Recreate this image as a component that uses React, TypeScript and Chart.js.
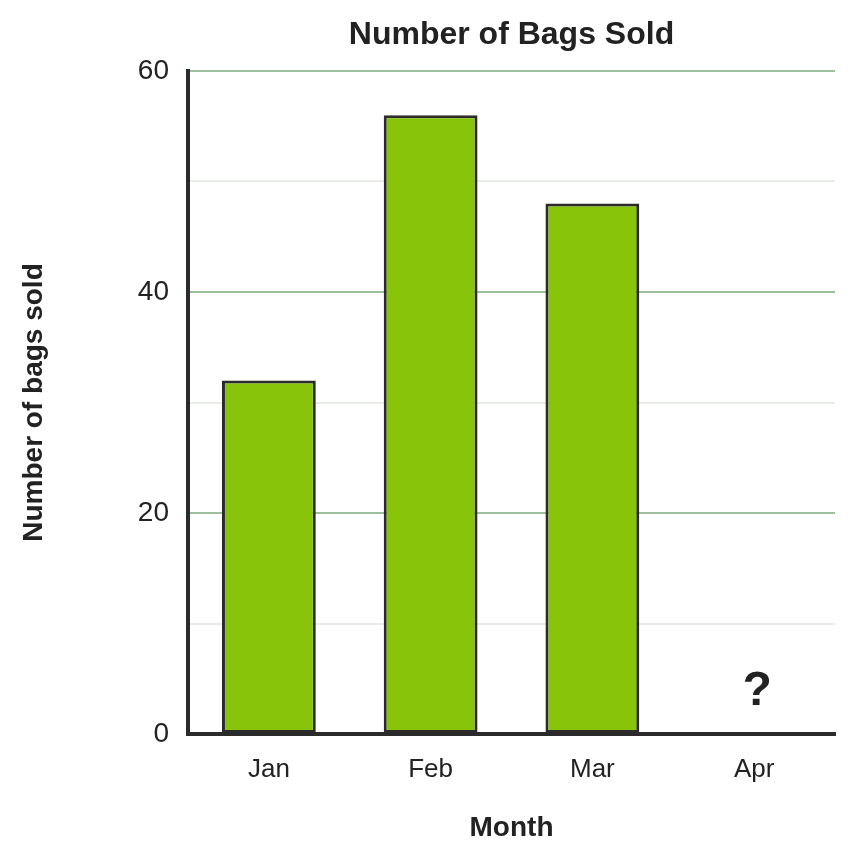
import React, { useEffect, useRef } from "react";
import { Chart, registerables } from "chart.js";

Chart.register(...registerables);

const months = ["Jan", "Feb", "Mar", "Apr"];
const bagsSold: (number | null)[] = [32, 56, 48, null];
const barMarks = ["", "", "", "?"];
const yTicks = [0, 20, 40, 60];

const fontFamily = "'Liberation Sans', Arial, sans-serif";
const textColor = "#222";
const axisColor = "#2b2b2b";
const barColor = "#88C40A";
const majorGrid = "#9dbf9d";
const minorGrid = "#e8ede8";

// writes the "?" (or any other mark) just above the zero line
const markPlugin = {
  id: "barMarks",
  afterDatasetsDraw(chart: Chart) {
    const { ctx } = chart;
    const x = chart.scales.x;
    const y = chart.scales.y;
    ctx.save();
    ctx.font = `bold 48px ${fontFamily}`;
    ctx.fillStyle = textColor;
    ctx.textAlign = "center";
    ctx.textBaseline = "middle";
    barMarks.forEach((m, i) => {
      if (!m) return;
      ctx.fillText(m, x.getPixelForValue(i) + 3, y.getPixelForValue(0) - 42);
    });
    ctx.restore();
  },
};

const App: React.FC = () => {
  const chartRef = useRef<HTMLCanvasElement | null>(null);

  useEffect(() => {
    if (!chartRef.current) return;
    const chart = new Chart(chartRef.current, {
      type: "bar",
      data: {
        labels: months,
        datasets: [
          {
            data: bagsSold,
            backgroundColor: barColor,
            borderColor: axisColor,
            borderWidth: 3,
            borderSkipped: false,
            categoryPercentage: 1,
            barPercentage: 0.58,
          },
        ],
      },
      options: {
        animation: false,
        responsive: true,
        maintainAspectRatio: false,
        layout: { padding: { left: 0, top: 0, bottom: 0, right: 21 } },
        plugins: {
          legend: { display: false },
          tooltip: { enabled: false },
          title: {
            display: true,
            text: "Number of Bags Sold",
            fullSize: false,
            color: textColor,
            font: { family: fontFamily, size: 32, weight: "bold", lineHeight: 1.2 },
            padding: { top: 15.8, bottom: 16.8 },
          },
        },
        scales: {
          x: {
            grid: { display: false },
            border: { display: true, color: axisColor, width: 4 },
            ticks: {
              color: textColor,
              padding: 12,
              font: { family: fontFamily, size: 26 },
            },
            title: {
              display: true,
              text: "Month",
              color: textColor,
              font: { family: fontFamily, size: 28, weight: "bold", lineHeight: 1.2 },
              padding: { top: 0, bottom: 10 },
            },
            afterFit(scale: any) {
              scale.height = 121;
            },
          },
          y: {
            min: 0,
            max: 60,
            grid: {
              drawTicks: false,
              lineWidth: 2,
              color: (c: any) => {
                const v = c.tick ? c.tick.value : 0;
                if (v === 0) return "rgba(0,0,0,0)";
                return yTicks.includes(v) ? majorGrid : minorGrid;
              },
            },
            border: { display: true, color: axisColor, width: 4 },
            ticks: {
              stepSize: 10,
              color: textColor,
              padding: 19,
              font: { family: fontFamily, size: 28 },
              callback: (v: any) => (yTicks.includes(Number(v)) ? String(v) : ""),
            },
            title: {
              display: true,
              text: "Number of bags sold",
              color: textColor,
              font: { family: fontFamily, size: 28, weight: "bold", lineHeight: 1.2 },
              padding: { top: 17, bottom: 0 },
            },
            afterFit(scale: any) {
              scale.width = 188;
            },
          },
        },
      },
      plugins: [markPlugin],
    });
    return () => {
      chart.destroy();
    };
  }, []);

  return (
    <div style={{ position: "absolute", left: 0, top: 0, width: 856, height: 855, background: "#fff" }}>
      <canvas ref={chartRef} />
    </div>
  );
};

export default App;
